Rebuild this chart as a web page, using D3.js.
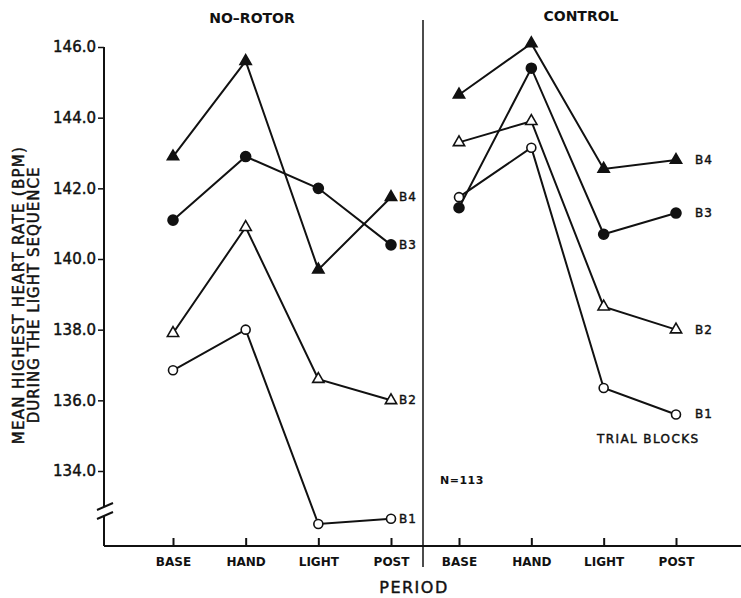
<!DOCTYPE html>
<html>
<head>
<meta charset="utf-8">
<script src="https://cdn.jsdelivr.net/npm/d3@7"></script>
<style>
    body { margin: 0; background: #fff; }
    text { font-family: "DejaVu Sans", sans-serif; fill: #111; }
    .heavy { stroke: #111; stroke-width: 0.45px; }
</style>
</head>
<body>
<div id="chart"></div>
<script>
// Periods on the x axis and the four trial blocks
var periods = ["BASE", "HAND", "LIGHT", "POST"];
var blockNames = ["B1", "B2", "B3", "B4"];

// NO-ROTOR group (mean highest heart rate, BPM)
var noRotorB1 = [136.85, 138.0, 132.5, 132.65];
var noRotorB2 = [137.9, 140.9, 136.6, 136.0];
var noRotorB3 = [141.1, 142.9, 142.0, 140.4];
var noRotorB4 = [142.9, 145.6, 139.7, 141.75];

// CONTROL group
var controlB1 = [141.75, 143.15, 136.35, 135.6];
var controlB2 = [143.3, 143.9, 138.65, 138.0];
var controlB3 = [141.45, 145.4, 140.7, 141.3];
var controlB4 = [144.65, 146.1, 142.55, 142.8];

var yTicks = [134, 136, 138, 140, 142, 144, 146];

/*
 * PeriodChart - two panel line chart with a broken y axis
 */
PeriodChart = function(_parentElement) {
    this.parentElement = _parentElement;
    this.initVis();
};

PeriodChart.prototype.initVis = function() {
    var vis = this;

    vis.width = 741;
    vis.height = 598;
    vis.axisX = 104;
    vis.axisY = 546;
    vis.divider = 423;

    vis.svg = d3.select("#" + vis.parentElement).append("svg")
        .attr("width", vis.width)
        .attr("height", vis.height);

    vis.y = d3.scaleLinear()
        .domain([134, 146])
        .range([471, 47]);

    vis.panels = [
        { title: "NO\u2013ROTOR", titleX: 252, titleY: 23, labelDx: 8,
          x: d3.scalePoint().domain(periods).range([173, 391]),
          series: [noRotorB1, noRotorB2, noRotorB3, noRotorB4] },
        { title: "CONTROL", titleX: 581, titleY: 21, labelDx: 19,
          x: d3.scalePoint().domain(periods).range([459, 676]),
          series: [controlB1, controlB2, controlB3, controlB4] }
    ];

    // y axis ticks and labels
    var yAxis = d3.axisLeft(vis.y)
        .tickValues(yTicks)
        .tickFormat(d3.format(".1f"))
        .tickSize(6)
        .tickPadding(2);

    vis.svg.append("g")
        .attr("class", "y-axis")
        .attr("transform", "translate(" + vis.axisX + ",0)")
        .call(yAxis)
        .call(function(g) { g.select(".domain").remove(); })
        .call(function(g) {
            g.selectAll(".tick line").attr("stroke", "#111").attr("stroke-width", 1.5);
            g.selectAll(".tick text")
                .attr("class", "heavy")
                .style("font-size", "15px")
                .attr("fill", "#111");
        });

    // y axis line with a break
    vis.svg.append("line")
        .attr("x1", vis.axisX).attr("x2", vis.axisX)
        .attr("y1", vis.y(146)).attr("y2", 507)
        .attr("stroke", "#111").attr("stroke-width", 2);
    vis.svg.append("line")
        .attr("x1", vis.axisX).attr("x2", vis.axisX)
        .attr("y1", 516).attr("y2", vis.axisY)
        .attr("stroke", "#111").attr("stroke-width", 2);
    [0, 9].forEach(function(off) {
        vis.svg.append("line")
            .attr("x1", vis.axisX - 7).attr("y1", 510 + off)
            .attr("x2", vis.axisX + 9).attr("y2", 503 + off)
            .attr("stroke", "#111").attr("stroke-width", 2);
    });

    // x axis line and panel divider
    vis.svg.append("line")
        .attr("x1", vis.axisX).attr("x2", vis.width)
        .attr("y1", vis.axisY).attr("y2", vis.axisY)
        .attr("stroke", "#111").attr("stroke-width", 2);
    vis.svg.append("line")
        .attr("x1", vis.divider).attr("x2", vis.divider)
        .attr("y1", 20).attr("y2", 567)
        .attr("stroke", "#111").attr("stroke-width", 1.5);

    // y axis title
    var yTitle = vis.svg.append("g")
        .attr("transform", "rotate(-90)")
        .style("font-size", "15px");
    yTitle.append("text")
        .attr("class", "heavy")
        .attr("x", -295).attr("y", 24)
        .attr("text-anchor", "middle")
        .style("letter-spacing", "1.3px")
        .text("MEAN HIGHEST HEART RATE  (BPM)");
    yTitle.append("text")
        .attr("class", "heavy")
        .attr("x", -295).attr("y", 39)
        .attr("text-anchor", "middle")
        .style("letter-spacing", "1px")
        .text("DURING THE LIGHT SEQUENCE");

    vis.svg.append("text")
        .attr("class", "heavy")
        .attr("x", 414).attr("y", 593)
        .attr("text-anchor", "middle")
        .style("font-size", "16px")
        .style("letter-spacing", "1.5px")
        .text("PERIOD");

    vis.svg.append("text")
        .attr("x", 440).attr("y", 484)
        .style("font-size", "11px")
        .style("font-weight", "bold")
        .style("letter-spacing", "0.5px")
        .text("N=113");

    vis.svg.append("text")
        .attr("class", "heavy")
        .attr("x", 597).attr("y", 443)
        .style("font-size", "12px")
        .style("letter-spacing", "1.4px")
        .text("TRIAL  BLOCKS");

    vis.updateVis();
};

PeriodChart.prototype.updateVis = function() {
    var vis = this;

    var triangle = d3.symbol().type(d3.symbolTriangle).size(55);

    vis.panels.forEach(function(panel) {
        var g = vis.svg.append("g").attr("class", "panel");

        g.append("text")
            .attr("x", panel.titleX).attr("y", panel.titleY)
            .attr("text-anchor", "middle")
            .style("font-size", "14px")
            .style("font-weight", "bold")
            .text(panel.title);

        // x axis with ticks pointing up
        var xAxis = d3.axisBottom(panel.x)
            .tickSize(-8)
            .tickPadding(11);
        g.append("g")
            .attr("transform", "translate(0," + vis.axisY + ")")
            .call(xAxis)
            .call(function(a) { a.select(".domain").remove(); })
            .call(function(a) {
                a.selectAll(".tick line").attr("stroke", "#111").attr("stroke-width", 2);
                a.selectAll(".tick text")
                    .style("font-size", "12px")
                    .style("font-weight", "bold")
                    .attr("fill", "#111");
            });

        var line = d3.line()
            .x(function(d, i) { return panel.x(periods[i]); })
            .y(function(d) { return vis.y(d); });

        g.selectAll(".series-line")
            .data(panel.series)
            .enter()
            .append("path")
            .attr("class", "series-line")
            .attr("d", line)
            .attr("fill", "none")
            .attr("stroke", "#111")
            .attr("stroke-width", 2);

        panel.series.forEach(function(values, b) {
            var filled = b >= 2;
            var isTriangle = b === 1 || b === 3;
            var marks = g.selectAll(".mark-" + b)
                .data(values)
                .enter();

            if (isTriangle) {
                marks.append("path")
                    .attr("d", triangle)
                    .attr("transform", function(d, i) {
                        return "translate(" + panel.x(periods[i]) + "," + vis.y(d) + ")";
                    })
                    .attr("fill", filled ? "#111" : "#fff")
                    .attr("stroke", "#111")
                    .attr("stroke-width", 1.6);
            } else {
                marks.append("circle")
                    .attr("cx", function(d, i) { return panel.x(periods[i]); })
                    .attr("cy", function(d) { return vis.y(d); })
                    .attr("r", filled ? 5 : 4.5)
                    .attr("fill", filled ? "#111" : "#fff")
                    .attr("stroke", "#111")
                    .attr("stroke-width", 1.6);
            }

            g.append("text")
                .attr("class", "heavy")
                .attr("x", panel.x("POST") + panel.labelDx)
                .attr("y", vis.y(values[3]) + 4)
                .style("font-size", "12px")
                .style("letter-spacing", "1px")
                .text(blockNames[b]);
        });
    });
};

new PeriodChart("chart");
</script>
</body>
</html>
